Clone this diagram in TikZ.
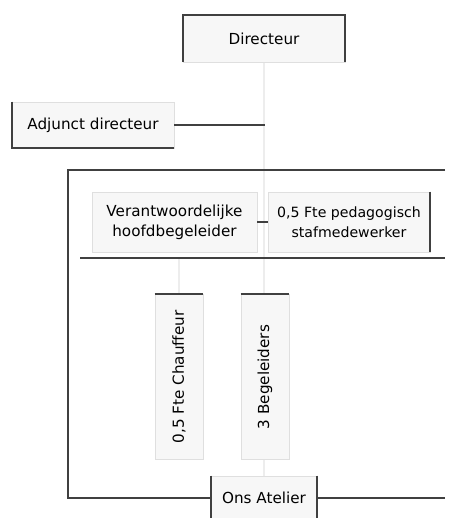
\documentclass[tikz,border=0pt]{standalone}
\usepackage{fontspec}
\setmainfont{DejaVu Sans}
\usepackage{tikz}
\usetikzlibrary{positioning}
\usetikzlibrary{backgrounds}

\begin{document}
\begin{tikzpicture}[x=0.75pt, y=-0.75pt,
    every node/.style={font=\fontsize{11.4}{15}\selectfont},
    box/.style={draw=gray!25, fill=gray!6, inner sep=0pt, align=center},
    rim/.style={draw=black!75, line width=1.5pt},
    faint/.style={draw=gray!14, line width=1pt}]
        \useasboundingbox (0,0) rectangle (457,518);

        \node[box, minimum width=121.5pt, minimum height=35pt] (dir) at (264,38.5) {Directeur};
        \node[box, minimum width=121.5pt, minimum height=34.5pt] (adj) at (93,125) {Adjunct directeur};
        \node[box, minimum width=123.75pt, minimum height=45pt] (ver) at (174.5,222) {Verantwoordelijke\\hoofdbegeleider};
        \node[box, minimum width=121.5pt, minimum height=45pt, font=\fontsize{10.6}{15}\selectfont] (ped) at (349,222) {0,5 Fte pedagogisch\\stafmedewerker};
        \node[box, rotate=90, minimum width=123.75pt, minimum height=36pt] (cha) at (179,377) {0,5 Fte Chauffeur};
        \node[box, rotate=90, minimum width=123.75pt, minimum height=36pt] (beg) at (265,377) {3 Begeleiders};
        \node[box, minimum width=79.5pt, minimum height=33pt] (ate) at (264,498) {Ons Atelier};

        \coordinate (j) at (265,125);
        \coordinate (gtl) at (68,170);
        \coordinate (gtr) at (445,170);
        \coordinate (gbl) at (68,498);
        \coordinate (gbr) at (445,498);
        \coordinate (ibl) at (80,258);
        \coordinate (ibr) at (445,258);

        \begin{scope}[on background layer]
            \draw[faint] (dir.south) -- (ate.north);
            \draw[faint] (cha.east |- ibl) -- (cha.east);
        \end{scope}

        % dark edges of the boxes
        \draw[rim] (dir.south west) -- (dir.north west) -- (dir.north east) -- (dir.south east);
        \draw[rim] (adj.north west) -- (adj.south west) -- (adj.south east);
        \draw[rim] (ped.north east) -- (ped.south east);
        \draw[rim] (cha.north east) -- (cha.south east);
        \draw[rim] (beg.north east) -- (beg.south east);
        \draw[rim] (ate.north west) -- (ate.south west);
        \draw[rim] (ate.north east) -- (ate.south east);

        % connectors
        \draw[rim, line width=1pt] (adj.east) -- (j);
        \draw[rim, line width=1pt] (ver.east) -- (ped.west);
        \draw[rim, line width=1pt] (ibl) -- (ibr);
        \draw[rim, line width=1pt] (gtr) -- (gtl) -- (gbl) -- (ate.west);
        \draw[rim, line width=1pt] (ate.east) -- (gbr);
    \end{tikzpicture}
\end{document}
